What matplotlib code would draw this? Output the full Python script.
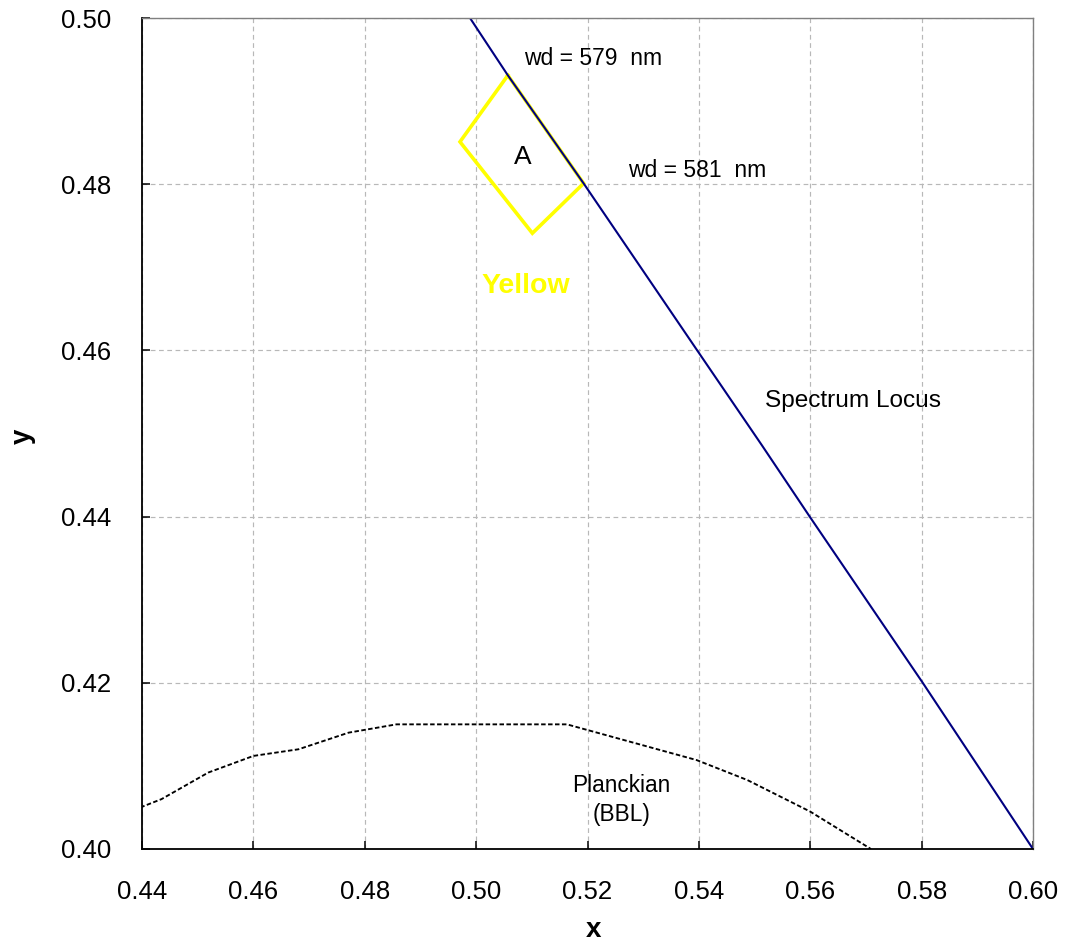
import numpy as np
import matplotlib
matplotlib.use("Agg")
import matplotlib.pyplot as plt

plt.rcParams['font.family'] = ['Liberation Sans', 'DejaVu Sans']

# ---- data ----
locus_x = [0.4989, 0.5057, 0.5193, 0.5397, 0.5513, 0.5599, 0.5802, 0.6000]
locus_y = [0.5000, 0.4931, 0.4801, 0.4600, 0.4486, 0.4400, 0.4200, 0.4000]

planck_x = [0.4397, 0.4435, 0.4519, 0.4600, 0.4681, 0.4771, 0.4857, 0.5163,
            0.5396, 0.5487, 0.5600, 0.5709]
planck_y = [0.4050, 0.4060, 0.4092, 0.4112, 0.4120, 0.4140, 0.4150, 0.4150,
            0.4107, 0.4083, 0.4045, 0.4000]

diamond_x = [0.5057, 0.5193, 0.5101, 0.4971]
diamond_y = [0.4931, 0.4801, 0.4741, 0.4851]

x_ticks = [0.44, 0.46, 0.48, 0.50, 0.52, 0.54, 0.56, 0.58, 0.60]
y_ticks = [0.40, 0.42, 0.44, 0.46, 0.48, 0.50]

W, H = 1066, 942
fig = plt.figure(figsize=(W / 100, H / 100), dpi=100)
ax = fig.add_axes([142 / W, 1 - 849 / H, 891 / W, 831 / H])

ax.set_xlim(0.44, 0.60)
ax.set_ylim(0.40, 0.50)
ax.set_xticks(x_ticks)
ax.set_yticks(y_ticks)
ax.set_xticklabels([f"{v:.2f}" for v in x_ticks])
ax.set_yticklabels([f"{v:.2f}" for v in y_ticks])

ax.grid(True, color='#B8B8B8', linestyle=(0, (4, 3)), linewidth=0.85)
ax.set_axisbelow(True)

ax.tick_params(axis='both', direction='in', length=6, width=1.1,
               labelsize=18.5, pad=22.5, colors='black')
ax.tick_params(top=False, right=False)

for s in ['top', 'right']:
    ax.spines[s].set_color('#808080')
    ax.spines[s].set_linewidth(1.0)
for s in ['left', 'bottom']:
    ax.spines[s].set_color('black')
    ax.spines[s].set_linewidth(1.3)

# Planckian locus
ax.plot(planck_x, planck_y, color='black', linewidth=1.35,
        linestyle=(0, (2.4, 1.3)), clip_on=True)

# yellow region A
dx = list(diamond_x) + [diamond_x[0]]
dy = list(diamond_y) + [diamond_y[0]]
ax.plot(dx, dy, color='#FFFF00', linewidth=2.6, solid_joinstyle='miter')

# spectrum locus
ax.plot(locus_x, locus_y, color='#000080', linewidth=1.5)

# annotations
ax.text(0.50859, 0.49434, 'wd = 579  nm', fontsize=16.5, ha='left', va='baseline')
ax.text(0.52727, 0.48090, 'wd = 581  nm', fontsize=16.5, ha='left', va='baseline')
ax.text(0.50842, 0.48243, 'A', fontsize=19, ha='center', va='baseline')
ax.text(0.50895, 0.46687, 'Yellow', fontsize=20.5, fontweight='bold',
        color='#FFFF00', ha='center', va='baseline')
ax.text(0.55187, 0.45323, 'Spectrum Locus', fontsize=17.6, ha='left', va='baseline')
ax.text(0.52610, 0.40690, 'Planckian', fontsize=16.3, ha='center', va='baseline')
ax.text(0.52610, 0.40337, '(BBL)', fontsize=16.3, ha='center', va='baseline')

fig.text(594 / W, 1 - 937 / H, 'x', fontsize=20, fontweight='bold',
         ha='center', va='baseline')
fig.text(23 / W, 1 - 436 / H, 'y', fontsize=20, fontweight='bold',
         rotation=90, ha='center', va='center')

fig.savefig('out.png', dpi=100)
